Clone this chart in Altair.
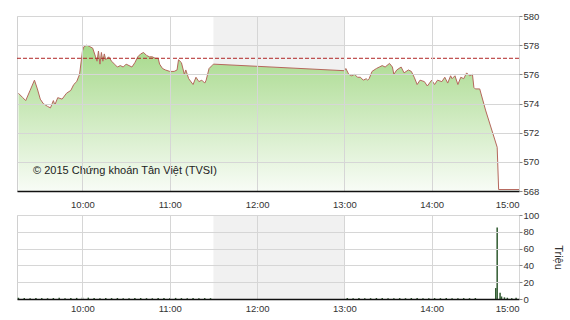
import altair as alt
import pandas as pd

# ---- data ----
price_times = [
    "09:16", "09:19", "09:21", "09:24", "09:27", "09:29", "09:31", "09:33", "09:36", "09:38",
    "09:40", "09:41", "09:43", "09:46", "09:49", "09:52", "09:54", "09:56", "09:58", "10:00",
    "10:01", "10:03", "10:05", "10:07", "10:09", "10:10", "10:11", "10:12", "10:13", "10:14",
    "10:15", "10:16", "10:18", "10:20", "10:22", "10:24", "10:26", "10:28", "10:30", "10:32",
    "10:34", "10:36", "10:38", "10:40", "10:42", "10:44", "10:46", "10:48", "10:50", "10:52",
    "10:53", "10:55", "10:57", "11:00", "11:03", "11:05", "11:06", "11:08", "11:10", "11:11",
    "11:13", "11:16", "11:18", "11:20", "11:22", "11:24", "11:25", "11:27", "11:29", "11:30",
    "13:00", "13:01", "13:03", "13:05", "13:07", "13:09", "13:11", "13:13", "13:15", "13:16",
    "13:17", "13:19", "13:22", "13:24", "13:26", "13:28", "13:31", "13:33", "13:34", "13:36",
    "13:39", "13:41", "13:44", "13:46", "13:48", "13:50", "13:52", "13:55", "13:57", "14:00",
    "14:02", "14:04", "14:07", "14:09", "14:11", "14:13", "14:14", "14:16", "14:18", "14:20",
    "14:22", "14:24", "14:26", "14:28", "14:29", "14:30", "14:33", "14:37", "14:45", "14:46",
    "15:00",
]
price_values = [
    574.7, 574.4, 574.2, 574.9, 575.6, 575.0, 574.3, 574.0, 573.8, 573.7,
    574.2, 573.9, 574.4, 574.3, 574.7, 574.9, 575.3, 575.5, 576.0, 577.6,
    577.9, 578.0, 577.9, 577.8, 577.2, 576.9, 577.6, 576.7, 577.5, 576.9,
    577.4, 577.0, 577.2, 576.9, 576.7, 576.5, 576.6, 576.5, 576.7, 576.6,
    576.5, 576.8, 577.2, 577.4, 577.5, 577.3, 577.2, 577.2, 577.1, 577.1,
    576.7, 576.4, 576.3, 576.2, 576.2, 576.3, 577.0, 576.8, 576.0, 576.3,
    575.7, 575.3, 575.8, 575.5, 575.6, 575.4, 575.6, 576.4, 576.6, 576.7,
    576.25, 576.4, 576.0, 575.9, 576.0, 575.8, 575.8, 575.6, 575.7, 575.6,
    575.7, 576.2, 576.4, 576.5, 576.6, 576.5, 576.75, 576.5, 576.0, 576.3,
    576.5, 576.1, 576.3, 576.2, 575.8, 575.3, 575.6, 575.5, 575.2, 575.6,
    575.3, 575.6, 575.5, 575.8, 575.4, 575.9, 575.7, 575.9, 575.3, 575.8,
    575.7, 576.1, 575.9, 576.0, 575.1, 575.0, 575.0, 573.55, 571.0, 568.1,
    568.1,
]
reference_price = [577.1]
lunch_start = [11.5]
lunch_end = [13.0]

vol_times = [
    "09:16", "09:20", "09:24", "09:28", "09:32", "09:36", "09:40", "09:44", "09:48", "09:52",
    "09:56", "10:00", "10:04", "10:08", "10:12", "10:16", "10:20", "10:24", "10:28", "10:32",
    "10:36", "10:40", "10:44", "10:48", "10:52", "10:56", "11:00", "11:04", "11:08", "11:12",
    "11:16", "11:20", "11:24", "11:28",
    "13:02", "13:06", "13:10", "13:14", "13:18", "13:22", "13:26", "13:30", "13:34", "13:38",
    "13:42", "13:46", "13:50", "13:54", "13:58", "14:02", "14:06", "14:10", "14:14", "14:18",
    "14:22", "14:26", "14:30",
    "14:44", "14:45", "14:47", "14:48", "14:50", "14:52", "14:55", "14:58",
]
vol_values = [
    1.5, 1.2, 1.0, 1.3, 1.1, 0.9, 1.2, 1.4, 1.0, 1.1,
    1.3, 1.8, 1.6, 1.2, 1.0, 1.3, 1.1, 1.2, 0.9, 1.0,
    1.1, 1.2, 1.0, 0.9, 1.1, 1.2, 1.0, 1.3, 1.1, 1.0,
    1.2, 0.9, 1.1, 1.0,
    1.2, 1.0, 1.1, 0.9, 1.0, 1.2, 1.1, 1.0, 0.9, 1.1,
    1.0, 1.2, 1.1, 0.9, 1.0, 1.1, 1.0, 1.2, 0.9, 1.0,
    1.1, 1.0, 1.2,
    13.0, 85.0, 7.5, 3.0, 2.0, 1.5, 1.0, 1.5,
]
hour_ticks = [10, 11, 12, 13, 14, 15]
price_ticks = [568, 570, 572, 574, 576, 578, 580]
vol_ticks = [0, 20, 40, 60, 80, 100]


def to_hours(t):
    h, m = t.split(":")
    return int(h) + int(m) / 60.0


price_df = pd.DataFrame({"t": [to_hours(t) for t in price_times], "v": price_values})
vol_df = pd.DataFrame({"t": [to_hours(t) for t in vol_times], "v": vol_values})
lunch_df = pd.DataFrame({"t": lunch_start, "t2": lunch_end})
ref_df = pd.DataFrame({"v": reference_price})

FONT = "Liberation Sans"
W = 502
H1 = 175
H2 = 84

x_scale = alt.Scale(domain=[9.25, 15], nice=False, zero=False)


def x_axis(pad):
    return alt.Axis(
        values=hour_ticks, labelExpr="datum.value + ':00'", title=None,
        grid=True, ticks=False, domain=True, domainColor="#111111", domainWidth=1.5,
        labelPadding=pad, labelFontSize=9.5, labelColor="#333333", labelFont=FONT,
        gridColor="#d6d6d6", zindex=1, labelOverlap=False,
    )


def price_axis():
    return alt.Axis(orient="right", values=price_ticks, tickCount=7, title=None, tickSize=3,
                    tickColor="#888888", labelPadding=1, labelFontSize=9.5,
                    labelColor="#333333", labelFont=FONT, domain=False,
                    gridColor="#d6d6d6", zindex=1, labelOverlap=False)


price_scale = alt.Scale(domain=[568, 580], zero=False, nice=False)

# ---- top panel ----
lunch_top = alt.Chart(lunch_df).mark_rect(color="#f1f1f1").encode(
    x=alt.X("t:Q", scale=x_scale, axis=x_axis(8)),
    x2="t2:Q",
    y=alt.value(0),
    y2=alt.value(H1),
)

area = alt.Chart(price_df).mark_area(
    line=False,
    color=alt.Gradient(
        gradient="linear",
        stops=[alt.GradientStop(color="#a6d98a", offset=0),
               alt.GradientStop(color="#f8fcf6", offset=1)],
        x1=1, x2=1, y1=0, y2=1,
    ),
).encode(
    x=alt.X("t:Q", scale=x_scale),
    y=alt.Y("v:Q", stack=None, scale=price_scale, axis=price_axis()),
    y2=alt.value(H1),
)

line = alt.Chart(price_df).mark_line(color="#b5675c", strokeWidth=1).encode(
    x="t:Q", y=alt.Y("v:Q", stack=None, scale=price_scale, axis=price_axis())
)

ref_line = alt.Chart(ref_df).mark_rule(color="#b02525", strokeDash=[4, 2], strokeWidth=1).encode(
    y=alt.Y("v:Q", scale=price_scale, axis=price_axis()), x=alt.value(0), x2=alt.value(W)
)

copyright_text = alt.Chart(ref_df).mark_text(
    text="© 2015 Chứng khoán Tân Việt (TVSI)", align="left", baseline="middle",
    font=FONT, fontSize=11, color="#222222",
).encode(x=alt.value(16), y=alt.value(155))

top = alt.layer(lunch_top, area, line, ref_line, copyright_text).properties(width=W, height=H1)

# ---- bottom panel ----
lunch_bot = alt.Chart(lunch_df).mark_rect(color="#f1f1f1").encode(
    x=alt.X("t:Q", scale=x_scale, axis=x_axis(4)),
    x2="t2:Q",
    y=alt.value(0),
    y2=alt.value(H2),
)

vol = alt.Chart(vol_df).mark_rule(color="#2f5a2f", strokeWidth=1.5).encode(
    x=alt.X("t:Q", scale=x_scale),
    y=alt.Y("v:Q", stack=None, scale=alt.Scale(domain=[0, 100], nice=False),
            axis=alt.Axis(orient="right", values=vol_ticks, title="Triệu", tickSize=3,
                          tickColor="#888888", labelPadding=1, labelFontSize=9.5,
                          labelColor="#333333", labelFont=FONT, domain=False,
                          titleFont=FONT, titleFontSize=11, titleFontWeight="normal",
                          titleColor="#333333", titlePadding=14, labelOverlap=False,
                          gridColor="#d6d6d6", zindex=1)),
    y2=alt.value(H2),
)

bottom = alt.layer(lunch_bot, vol).properties(width=W, height=H2)

chart = alt.vconcat(top, bottom, spacing=24, bounds="flush").properties(
    padding={"left": 15, "top": 10, "right": 5, "bottom": 5},
    background="white",
).configure_view(stroke="#d0d0d0")

chart.save("out.html", embed_options={"renderer": "svg", "actions": False})
